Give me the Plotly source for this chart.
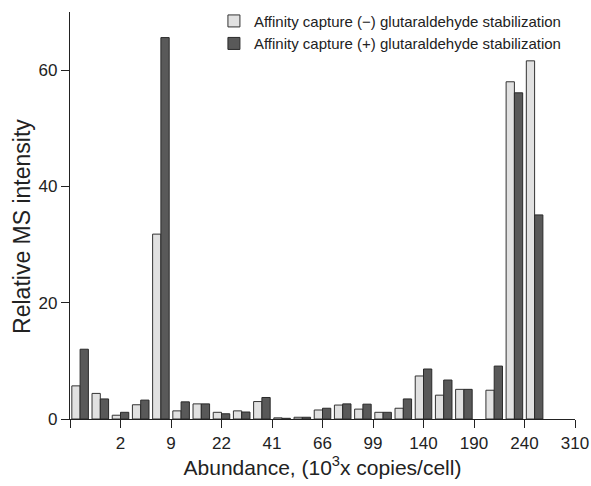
import plotly.graph_objects as go

# Pair positions along the abundance axis (one pair per protein bin)
x_pos = [1, 2, 3, 4, 5, 6, 7, 8, 9, 10, 11, 12, 13, 14, 15, 16, 17, 18, 19, 20, 21.5, 22.5, 23.5]

# Relative MS intensity, affinity capture without glutaraldehyde
minus_vals = [5.7, 4.4, 0.65, 2.45, 31.8, 1.4, 2.6, 1.15, 1.4, 3.0, 0.2, 0.3, 1.55, 2.4,
              1.7, 1.15, 1.85, 7.4, 4.1, 5.1, 4.95, 58.0, 61.6]
# Relative MS intensity, affinity capture with glutaraldehyde
plus_vals = [12.0, 3.45, 1.15, 3.25, 65.6, 2.95, 2.6, 0.9, 1.2, 3.7, 0.12, 0.3, 1.85, 2.6,
             2.55, 1.15, 3.45, 8.6, 6.7, 5.1, 9.1, 56.1, 35.1]

tick_vals = [0.5, 3, 5.5, 8, 10.5, 13, 15.5, 18, 20.5, 23, 25.5]
tick_text = ["", "2", "9", "22", "41", "66", "99", "140", "190", "240", "310"]

FONT = "Liberation Sans, Arial, Helvetica, sans-serif"

fig = go.Figure()
fig.add_trace(go.Bar(
    x=x_pos, y=minus_vals,
    name="Affinity capture (\u2212) glutaraldehyde stabilization",
    marker=dict(color="#e1e1e1", line=dict(color="#333333", width=1)),
))
fig.add_trace(go.Bar(
    x=x_pos, y=plus_vals,
    name="Affinity capture (+) glutaraldehyde stabilization",
    marker=dict(color="#595959", line=dict(color="#2a2a2a", width=1)),
))

fig.update_layout(
    width=591, height=486,
    margin=dict(l=70, r=16, t=12, b=67, autoexpand=False),
    plot_bgcolor="white", paper_bgcolor="white",
    barmode="group", bargap=0.18, bargroupgap=0,
    font=dict(family=FONT, color="#222222"),
    legend=dict(
        x=0.285, y=1.018, xanchor="left", yanchor="top",
        font=dict(size=15, color="#222222"),
        bgcolor="rgba(0,0,0,0)", tracegroupgap=0,
    ),
    xaxis=dict(
        range=[0.5, 25.5], tickmode="array", tickvals=tick_vals, ticktext=tick_text,
        showline=True, linecolor="#222222", linewidth=1.3,
        ticks="outside", ticklen=8, tickwidth=1.3, tickcolor="#222222",
        showgrid=False, zeroline=False,
        tickfont=dict(size=17),
        title=dict(text="Abundance, (10<sup>3</sup>x copies/cell)", font=dict(size=21), standoff=8),
    ),
    yaxis=dict(
        range=[0, 70], tickmode="array", tickvals=[0, 20, 40, 60],
        showline=True, linecolor="#222222", linewidth=1.3,
        ticks="outside", ticklen=8, tickwidth=1.3, tickcolor="#222222",
        showgrid=False, zeroline=False,
        tickfont=dict(size=17),
    ),
    annotations=[dict(
        text="Relative MS intensity", textangle=-90,
        xref="paper", yref="paper", x=-0.095, y=0.472,
        xanchor="center", yanchor="middle", showarrow=False,
        font=dict(size=23, color="#222222"),
    )],
)

fig.write_html("out.html")
